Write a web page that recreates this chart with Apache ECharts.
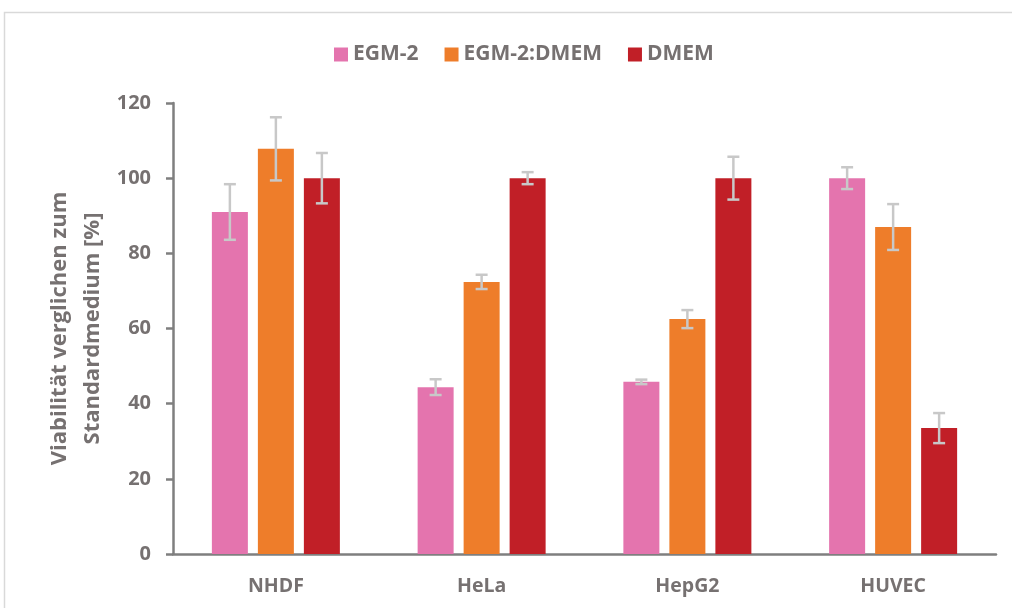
<!DOCTYPE html>
<html>
<head>
<meta charset="utf-8">
<script src="https://cdn.jsdelivr.net/npm/echarts@6/dist/echarts.min.js"></script>
<style>
  html, body { margin: 0; padding: 0; background: #fff; }
  #chart { width: 1012px; height: 608px; }
</style>
</head>
<body>
<div id="chart"></div>
<script>
// Cell lines and culture media
const categories = ['NHDF', 'HeLa', 'HepG2', 'HUVEC'];
const seriesNames = ['EGM-2', 'EGM-2:DMEM', 'DMEM'];

// Viability relative to the standard medium [%]
const egm2      = [91.0, 44.4, 45.8, 100];
const egm2Dmem  = [107.8, 72.4, 62.5, 87.0];
const dmem      = [100, 100, 100, 33.5];

// Standard deviations
const egm2Err     = [7.4, 2.1, 0.6, 2.9];
const egm2DmemErr = [8.4, 1.9, 2.4, 6.1];
const dmemErr     = [6.7, 1.6, 5.7, 4.0];

const yTicks = [0, 20, 40, 60, 80, 100, 120];

const values = [egm2, egm2Dmem, dmem];
const errors = [egm2Err, egm2DmemErr, dmemErr];
const colors = ['#E474AE', '#EE7D2A', '#C11F27'];

const FONT = '"Open Sans", "Noto Sans", sans-serif';
const TEXT = '#767171';
const BAR_W = 36;
const BAR_GAP = 10;

const chart = echarts.init(document.getElementById('chart'), null, { renderer: 'canvas' });

const barSeries = seriesNames.map((name, i) => ({
  name: name,
  type: 'bar',
  data: values[i],
  barWidth: BAR_W,
  barGap: (BAR_GAP / BAR_W * 100) + '%',
  itemStyle: { color: colors[i] },
  emphasis: { disabled: true },
  z: 2
}));

// Standard deviation whiskers, placed over the matching bar of each group
const errorSeries = seriesNames.map((name, i) => ({
  type: 'custom',
  name: name + ' SD',
  data: values[i].map((v, k) => [k, v - errors[i][k], v + errors[i][k]]),
  z: 5,
  silent: true,
  renderItem: function (params, api) {
    const offset = (i - 1) * (BAR_W + BAR_GAP);
    const lo = api.coord([api.value(0), api.value(1)]);
    const hi = api.coord([api.value(0), api.value(2)]);
    const x = lo[0] + offset;
    const cap = 6;
    const style = { stroke: '#C8C8C8', lineWidth: 2.5, fill: null };
    return {
      type: 'group',
      children: [
        { type: 'line', shape: { x1: x, y1: lo[1], x2: x, y2: hi[1] }, style: style },
        { type: 'line', shape: { x1: x - cap, y1: hi[1], x2: x + cap, y2: hi[1] }, style: style },
        { type: 'line', shape: { x1: x - cap, y1: lo[1], x2: x + cap, y2: lo[1] }, style: style }
      ]
    };
  },
  encode: { x: 0, y: [1, 2] }
}));

chart.setOption({
  backgroundColor: '#ffffff',
  animation: false,
  graphic: [{
    type: 'rect',
    shape: { x: 4.5, y: 12.5, width: 1100, height: 700 },
    style: { fill: null, stroke: '#D9D9D9', lineWidth: 1.5 },
    silent: true,
    z: -1
  }],
  legend: {
    data: seriesNames,
    top: 39,
    left: 329,
    itemWidth: 14,
    itemHeight: 14,
    itemGap: 26,
    icon: 'rect',
    textStyle: { color: TEXT, fontFamily: FONT, fontWeight: 'bold', fontSize: 21 }
  },
  grid: { left: 173, right: 16, top: 103, bottom: 54, containLabel: false, outerBoundsMode: 'none' },
  xAxis: {
    type: 'category',
    data: categories,
    axisLine: { lineStyle: { color: '#7F7F7F', width: 2.5 } },
    axisTick: { show: false },
    axisLabel: { color: TEXT, fontFamily: FONT, fontWeight: 'bold', fontSize: 19.5, margin: 22 }
  },
  yAxis: {
    type: 'value',
    min: 0,
    max: 120,
    interval: 20,
    name: 'Viabilität verglichen zum\nStandardmedium [%]',
    nameLocation: 'middle',
    nameGap: 64,
    nameMoveOverlap: false,
    nameTextStyle: { color: TEXT, fontFamily: FONT, fontWeight: 'bold', fontSize: 22, lineHeight: 33 },
    axisLine: { show: true, lineStyle: { color: '#7F7F7F', width: 2.5 } },
    axisTick: { show: true, length: 7, lineStyle: { color: '#7F7F7F', width: 2.5 } },
    splitLine: { show: false },
    axisLabel: {
      color: TEXT, fontFamily: FONT, fontWeight: 'bold', fontSize: 20, margin: 22,
      formatter: v => yTicks.includes(v) ? String(v) : ''
    }
  },
  series: barSeries.concat(errorSeries)
});
</script>
</body>
</html>
